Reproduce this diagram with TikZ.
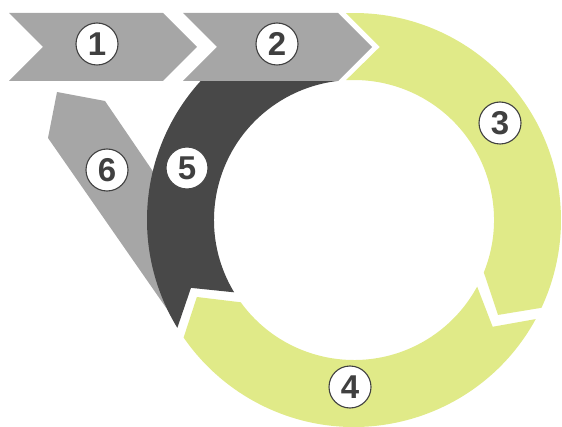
\documentclass[tikz,border=0pt]{standalone}
\usepackage{fontspec}
\setmainfont{Liberation Sans}
\definecolor{chevgrey}{RGB}{166,166,166}
\definecolor{darkarc}{RGB}{72,72,72}
\definecolor{lime}{RGB}{224,234,136}
\definecolor{numcol}{RGB}{64,64,64}
\begin{document}
\begin{tikzpicture}[x=1pt,y=1pt,
  numcircle/.style={circle,fill=white,draw=numcol,line width=1.1pt,minimum size=42pt,inner sep=0pt,
    font=\fontsize{33}{33}\selectfont\bfseries,text=numcol}]
\useasboundingbox (0,0) rectangle (562,426);
% 6 (grey tail, behind the dark arc)
\fill[chevgrey] (57,334) -- (105,325) -- (152,256) -- (200,176) -- (176,104) -- (48,288) -- cycle;
% 5 dark arc
\begin{scope}
  \clip (0,0) rectangle (338,345);
  \begin{scope}[shift={(354,206)}]
    \fill[darkarc] (90:207) arc[start angle=90, end angle=211.4, radius=207]
      -- (202.6:176.6) -- (211.1:140)
      arc[start angle=211.1, end angle=90, radius=140] -- cycle;
  \end{scope}
\end{scope}
% chevrons 1 and 2
\fill[chevgrey] (9,413) -- (163,413) -- (197,379) -- (163,345) -- (9,345) -- (43,379) -- cycle;
\fill[chevgrey] (183,413) -- (338,413) -- (372,379) -- (338,345) -- (183,345) -- (217,379) -- cycle;
% green arcs 3 and 4
\begin{scope}[shift={(354,206)}]
  \fill[lime] (92.2:207) arc[start angle=92.2, end angle=-25.1, radius=207]
    -- (-33.4:172.5) -- (-22:140)
    arc[start angle=-22, end angle=93.3, radius=140] -- (81.5:175) -- cycle;
  \fill[lime] (-28.6:207) arc[start angle=-28.6, end angle=-145.4, radius=207]
    -- (-153.9:175) -- (-144:140)
    arc[start angle=-144, end angle=-28.4, radius=140] -- (-37.6:175) -- cycle;
\end{scope}
% labels
\node[numcircle] (n1) at (97,382) {1};
\node[numcircle] (n2) at (277,382) {2};
\node[numcircle] (n3) at (500,303) {3};
\node[numcircle] (n4) at (350,39) {4};
\node[numcircle,draw=darkarc] (n5) at (187,258) {5};
\node[numcircle] (n6) at (107,256) {6};
\end{tikzpicture}
\end{document}
